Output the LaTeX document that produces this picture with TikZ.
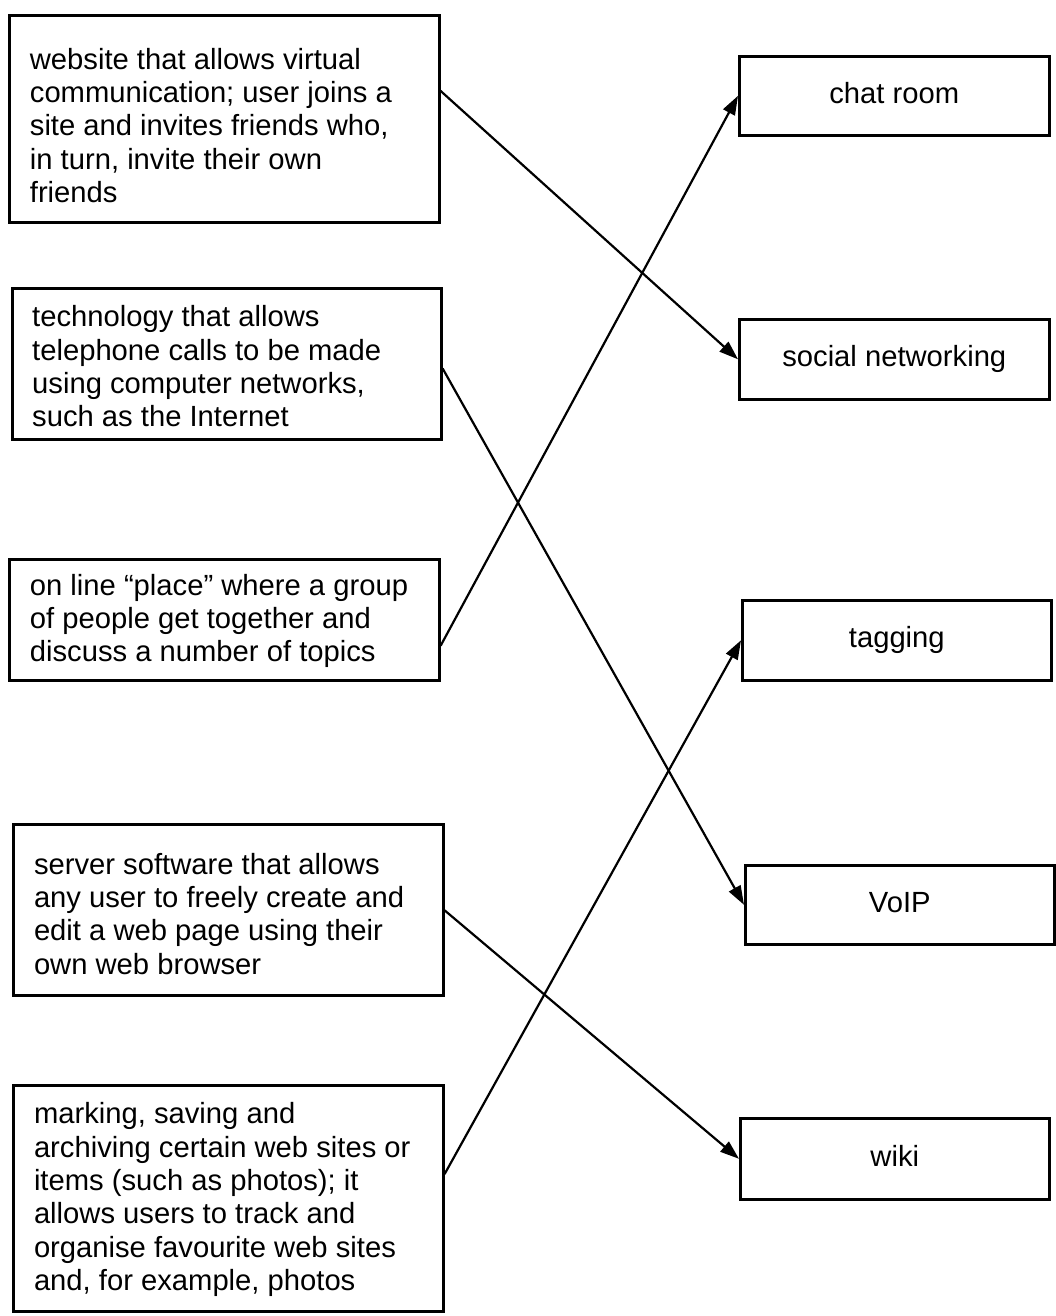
\documentclass[tikz,border=0pt]{standalone}
\usepackage{fontspec}
\setmainfont{Liberation Sans}
\usetikzlibrary{arrows.meta,calc}
\newcommand{\descfont}{\fontsize{29.2pt}{33.4pt}\selectfont}
\begin{document}
\begin{tikzpicture}[x=1pt,y=1pt,
  box/.style={draw, line width=2.6pt, inner sep=0pt, anchor=north west},
  desc/.style={anchor=north west, inner sep=0pt, align=left, font=\descfont},
  term/.style={draw, line width=2.6pt, inner sep=0pt, anchor=north west, font=\descfont, text height=21.3pt, text depth=6.1pt},
  link/.style={line width=2.2pt, -{Triangle[length=19pt,width=13pt]}}]
\useasboundingbox (0,0) rectangle (1056,-1316);
% left boxes
\node[box, minimum width=430pt, minimum height=207pt] (b1) at (8,-14) {};
\node[box, minimum width=429pt, minimum height=151pt] (b2) at (11,-287) {};
\node[box, minimum width=430pt, minimum height=121pt] (b3) at (8,-558) {};
\node[box, minimum width=430pt, minimum height=171pt] (b4) at (12,-823) {};
\node[box, minimum width=430pt, minimum height=226pt] (b5) at (12,-1084) {};
% texts
\node[desc] (t1) at (29.7,-45.6) {\strut website that allows virtual\\communication; user joins a\\site and invites friends who,\\in turn, invite their own\\friends};
\node[desc] (t2) at (32,-303.1) {\strut technology that allows\\telephone calls to be made\\using computer networks,\\such as the Internet};
\node[desc] (t3) at (29.7,-571.6) {\strut on line “place” where a group\\of people get together and\\discuss a number of topics};
\node[desc] (t4) at (33.8,-850.6) {\strut server software that allows\\any user to freely create and\\edit a web page using their\\own web browser};
\node[desc] (t5) at (33.8,-1100.1) {\strut marking, saving and\\archiving certain web sites or\\items (such as photos); it\\allows users to track and\\organise favourite web sites\\and, for example, photos};
% right boxes
\node[term, minimum width=310pt, minimum height=79pt] (r1) at (738,-55) {chat room};
\node[term, minimum width=310pt, minimum height=80pt] (r2) at (738,-318) {social networking};
\node[term, minimum width=309pt, minimum height=80pt] (r3) at (741,-599) {tagging};
\node[term, minimum width=309pt, minimum height=79pt] (r4) at (744,-864) {VoIP};
\node[term, minimum width=309pt, minimum height=81pt] (r5) at (739,-1117) {wiki};
% connectors
\draw[link] ($(b1.north east)!0.367!(b1.south east)$) -- (r2.west);
\draw[link] ($(b2.north east)!0.53!(b2.south east)$) -- (r4.west);
\draw[link] ($(b3.north east)!0.71!(b3.south east)$) -- (r1.west);
\draw[link] ($(b4.north east)!0.503!(b4.south east)$) -- (r5.west);
\draw[link] ($(b5.north east)!0.394!(b5.south east)$) -- (r3.west);
\end{tikzpicture}
\end{document}
